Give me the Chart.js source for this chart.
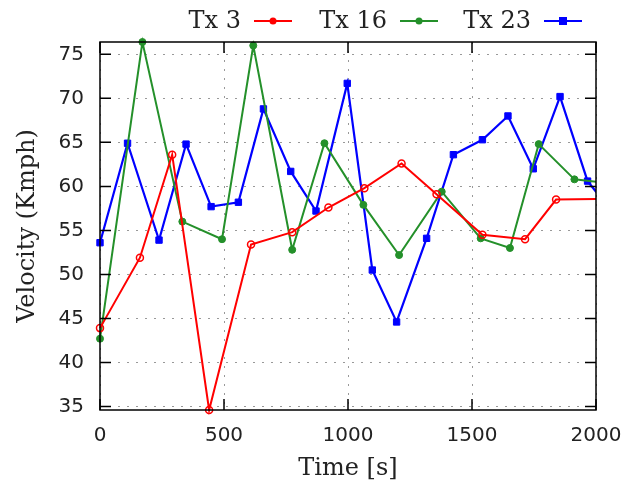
<!DOCTYPE html>
<html>
<head>
<meta charset="utf-8">
<script src="https://cdn.jsdelivr.net/npm/chart.js@4/dist/chart.umd.min.js"></script>
<style>
  html, body { margin: 0; padding: 0; background: #fff; }
  #wrap { width: 628px; height: 483px; }
</style>
</head>
<body>
<div id="wrap"><canvas id="speedChart" width="628" height="483"></canvas></div>
<script>
// values (time in s, velocity in Kmph)
const seriesNames = ['Tx 3', 'Tx 16', 'Tx 23'];

const tx3Time  = [0, 161, 291, 440, 609, 775, 921, 1066, 1216, 1357, 1542, 1714, 1839, 2040];
const tx3Speed = [43.9, 51.9, 63.6, 34.6, 53.4, 54.8, 57.6, 59.8, 62.6, 59.1, 54.5, 54.0, 58.5, 58.6];

const tx16Time  = [0, 171, 332, 492, 618, 775, 905, 1062, 1206, 1378, 1535, 1653, 1769, 1913, 2040];
const tx16Speed = [42.7, 76.4, 56.0, 54.0, 76.0, 52.8, 64.9, 57.9, 52.2, 59.4, 54.1, 53.0, 64.8, 60.8, 60.4];

const tx23Time  = [0, 111, 238, 347, 448, 558, 659, 769, 871, 997, 1098, 1196, 1317, 1425, 1542, 1645, 1747, 1855, 1966, 2040];
const tx23Speed = [53.6, 64.9, 53.9, 64.8, 57.7, 58.2, 68.8, 61.7, 57.2, 71.7, 50.5, 44.6, 54.1, 63.6, 65.3, 68.0, 62.0, 70.2, 60.6, 58.0];

const xTicks = [0, 500, 1000, 1500, 2000];
const yTicks = [35, 40, 45, 50, 55, 60, 65, 70, 75];

function pairs(xs, ys) {
    return xs.map(function(x, i) { return {x: x, y: ys[i]}; });
}

const serifFont = "'DejaVu Serif', serif";
const sansFont = "'DejaVu Sans', sans-serif";

// gnuplot-ish frame: border box, inward tick marks, legend with text before the sample
const gnuFrame = {
    id: 'gnuFrame',
    afterDraw(chart) {
        const ctx = chart.ctx;
        const a = chart.chartArea;
        const xs = chart.scales.x, ys = chart.scales.y;
        ctx.save();
        ctx.strokeStyle = '#000';
        ctx.lineWidth = 1.5;
        ctx.strokeRect(a.left, a.top, a.right - a.left, a.bottom - a.top);
        ctx.beginPath();
        yTicks.forEach(function(v) {
            const py = ys.getPixelForValue(v);
            ctx.moveTo(a.left, py); ctx.lineTo(a.left + 11, py);
            ctx.moveTo(a.right, py); ctx.lineTo(a.right - 11, py);
        });
        xTicks.forEach(function(v) {
            const px = xs.getPixelForValue(v);
            ctx.moveTo(px, a.bottom); ctx.lineTo(px, a.bottom - 11);
            ctx.moveTo(px, a.top); ctx.lineTo(px, a.top + 11);
        });
        ctx.stroke();

        // legend
        const rights = [292, 438, 582];
        const ly = 21;
        ctx.font = '24px ' + serifFont;
        ctx.textAlign = 'right';
        ctx.textBaseline = 'middle';
        chart.data.datasets.forEach(function(ds, i) {
            const r = rights[i];
            ctx.fillStyle = '#222';
            ctx.fillText(ds.label, r - 51, ly + 1);
            ctx.strokeStyle = ds.borderColor;
            ctx.lineWidth = 2;
            ctx.beginPath();
            ctx.moveTo(r - 38, ly); ctx.lineTo(r, ly);
            ctx.stroke();
            ctx.fillStyle = ds.borderColor;
            if (ds.pointStyle === 'rect') {
                ctx.fillRect(r - 19 - 4, ly - 4, 8, 8);
            } else {
                ctx.beginPath();
                ctx.arc(r - 19, ly, 3.5, 0, Math.PI * 2);
                ctx.fill();
            }
        });
        ctx.restore();
    }
};

const ctx = document.getElementById('speedChart').getContext('2d');
const chart = new Chart(ctx, {
    type: 'line',
    data: {
        datasets: [{
            label: seriesNames[0],
            data: pairs(tx3Time, tx3Speed),
            borderColor: '#ff0000',
            backgroundColor: 'rgba(255,255,255,0)',
            borderWidth: 2,
            pointRadius: 3.5,
            pointBorderWidth: 1.5,
            pointStyle: 'circle',
            clip: {left: 6, top: 6, right: 0, bottom: 6}
        }, {
            label: seriesNames[1],
            data: pairs(tx16Time, tx16Speed),
            borderColor: '#24902a',
            backgroundColor: '#24902a',
            borderWidth: 2,
            pointRadius: 3.5,
            pointBorderWidth: 1,
            pointStyle: 'circle',
            clip: {left: 6, top: 6, right: 0, bottom: 6}
        }, {
            label: seriesNames[2],
            data: pairs(tx23Time, tx23Speed),
            borderColor: '#0000ff',
            backgroundColor: '#0000ff',
            borderWidth: 2.2,
            pointRadius: 4.5,
            pointBorderWidth: 1,
            pointStyle: 'rect',
            clip: {left: 6, top: 6, right: 0, bottom: 6}
        }]
    },
    options: {
        responsive: false,
        animation: false,
        layout: { padding: {top: 42, right: 32, left: 0, bottom: 0} },
        plugins: {
            legend: { display: false },
            tooltip: { enabled: false }
        },
        elements: { line: { tension: 0 } },
        scales: {
            x: {
                type: 'linear',
                min: 0,
                max: 2000,
                afterFit: function(scale) {
                    scale.height = 73;
                    scale.paddingLeft = 0;
                    scale.paddingRight = 0;
                },
                afterBuildTicks: function(scale) {
                    scale.ticks = xTicks.map(function(v) { return {value: v}; });
                },
                ticks: {
                    padding: 14,
                    color: '#222',
                    font: { family: sansFont, size: 20 },
                    maxRotation: 0,
                    callback: function(v) { return String(v); }
                },
                grid: { color: '#999', lineWidth: 1, drawTicks: false },
                border: { display: false, dash: [2, 7] },
                title: {
                    display: true,
                    text: 'Time [s]',
                    color: '#222',
                    font: { family: serifFont, size: 24 },
                    padding: {top: 0, bottom: 0}
                }
            },
            y: {
                type: 'linear',
                min: 34.6,
                max: 76.4,
                afterFit: function(scale) { scale.width = 100; },
                afterBuildTicks: function(scale) {
                    scale.ticks = yTicks.map(function(v) { return {value: v}; });
                },
                ticks: {
                    padding: 16,
                    color: '#222',
                    font: { family: sansFont, size: 20 },
                    callback: function(v) { return String(v); }
                },
                grid: { color: '#999', lineWidth: 1, drawTicks: false },
                border: { display: false, dash: [2, 7] },
                title: {
                    display: true,
                    text: 'Velocity (Kmph)',
                    color: '#222',
                    font: { family: serifFont, size: 24 },
                    padding: {top: 13, bottom: 0}
                }
            }
        }
    },
    plugins: [gnuFrame]
});
</script>
</body>
</html>
